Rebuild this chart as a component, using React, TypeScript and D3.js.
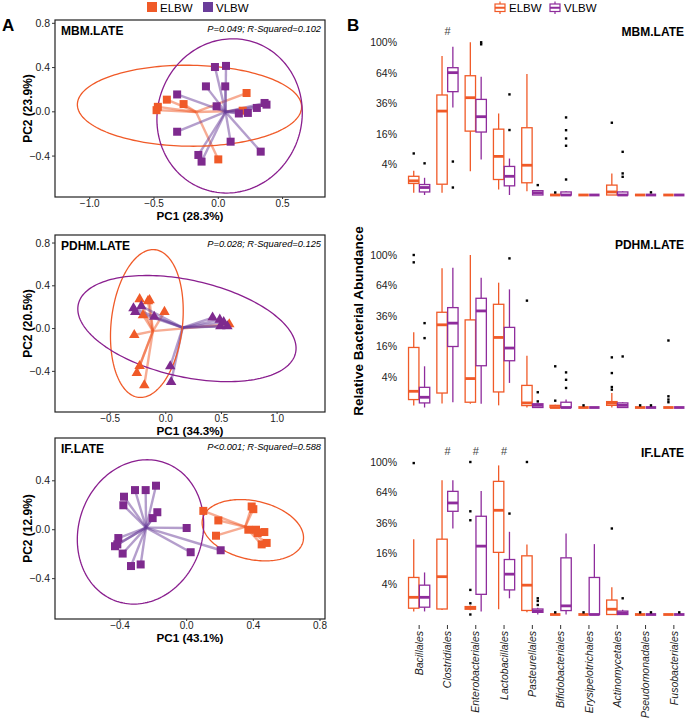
import React from 'react';
import * as d3 from 'd3';

const ORANGE = '#F05A28';
const PURPLE = '#7E2A8E';
const PURPLE_LINE = '#6A3D9A';
const PURPLE_ELL = '#8A1F8F';
const PURPLE_BOX = '#8E2C9C';
const FONT = '"Liberation Sans", Arial, Helvetica, sans-serif';

type Pt = [number, number];
type Ell = { c: Pt; a: Pt; b: Pt };
type Box = [number, number, number, number, number]; // lo, q1, median, q3, hi

const groups = ['ELBW', 'VLBW'];

// ---- panel A : PCoA ordinations ----
const mbmElbw: Pt[] = [[-0.48, 0.015], [-0.47, 0.045], [-0.40, 0.11], [-0.27, 0.07], [0.22, 0.17], [0.19, 0.01], [0.0, -0.43]];
const mbmVlbw: Pt[] = [[-0.026, 0.405], [0.06, 0.415], [0.054, 0.23], [-0.096, 0.23], [-0.32, 0.157], [-0.013, 0.05], [-0.32, -0.18], [0.16, -0.015], [0.23, -0.01], [0.30, 0.035], [0.36, 0.08], [0.375, 0.065], [0.096, -0.27], [0.33, -0.36], [-0.155, -0.39], [-0.13, -0.45]];
const pdhmElbw: Pt[] = [[-0.235, 0.275], [-0.16, 0.256], [-0.146, 0.266], [-0.012, 0.156], [-0.205, 0.125], [-0.283, -0.06], [-0.235, -0.35], [-0.26, -0.415], [-0.193, -0.53], [0.57, 0.04]];
const pdhmVlbw: Pt[] = [[-0.29, 0.19], [-0.274, 0.156], [-0.22, 0.21], [-0.104, 0.11], [0.42, 0.103], [0.485, 0.084], [0.49, 0.022], [0.553, 0.022], [0.52, 0.06], [0.04, -0.353], [0.048, -0.5]];
const ifElbw: Pt[] = [[0.1, 0.154], [0.19, 0.076], [0.176, -0.049], [0.39, 0.19], [0.40, 0.168], [0.37, 0.0], [0.416, 0.0], [0.426, -0.027], [0.466, -0.019], [0.45, -0.12], [0.48, -0.108]];
const ifVlbw: Pt[] = [[-0.31, 0.324], [-0.246, 0.324], [-0.184, 0.36], [-0.376, 0.27], [-0.38, 0.2], [-0.176, 0.143], [-0.204, 0.095], [0.0, 0.014], [-0.41, -0.068], [-0.43, -0.135], [-0.416, -0.12], [-0.384, -0.195], [-0.334, -0.297], [-0.276, -0.284], [0.024, -0.184], [0.204, -0.168]];

// ellipses: centre + two semi-axis vectors (data units)
const mbmEllipses: Ell[] = [
  { c: [-0.224, 0.055], a: [0.872, -0.01], b: [0, 0.366] },
  { c: [0.088, -0.037], a: [0.565, 0.055], b: [-0.02, 0.695] },
];
const pdhmEllipses: Ell[] = [
  { c: [-0.17, 0.047], a: [0.075, 0.69], b: [0.318, -0.04] },
  { c: [0.19, 0.0], a: [0.975, -0.23], b: [0.1, 0.44] },
];
const ifEllipses: Ell[] = [
  { c: [0.397, -0.004], a: [0.3, -0.1], b: [0.05, 0.23] },
  { c: [-0.277, -0.018], a: [0.04, 0.59], b: [0.377, 0] },
];

const mbmXTicks = [-1.0, -0.5, 0.0, 0.5];
const pdhmXTicks = [-0.5, 0.0, 0.5, 1.0];
const ifXTicks = [-0.4, 0.0, 0.4, 0.8];
const abYTicks = [-0.4, 0.0, 0.4, 0.8];
const ifYTicks = [-0.4, 0.0, 0.4];

// ---- panel B : relative abundance boxplots ----
const categories = ['Bacillales', 'Clostridiales', 'Enterobacteriales', 'Lactobacillales', 'Pasteurellales', 'Bifidobacteriales', 'Erysipelotrichales', 'Actinomycetales', 'Pseudomonadales', 'Fusobacteriales'];
const abundanceTicks = [4, 16, 36, 64, 100];

const mbmElbwBox: Box[] = [[0.02, 0.57, 0.86, 1.5, 2.5], [0.02, 0.5, 30.2, 42.9, 82.8], [2.4, 17.5, 40.6, 61, 100], [0.13, 1.03, 6.4, 18.6, 28.5], [0.06, 0.64, 3.8, 19.4, 62.8], [0, 0, 0, 0, 0], [0, 0, 0, 0, 0], [0, 0, 0.04, 0.42, 2.0], [0, 0, 0, 0, 0], [0, 0, 0, 0, 0]];
const mbmVlbwBox: Box[] = [[0, 0.04, 0.24, 0.47, 1.27], [32.9, 45.8, 64.2, 69.5, 94.4], [5.4, 17, 26.3, 39.2, 60], [0, 0.36, 1.5, 3.5, 5.7], [0, 0, 0.02, 0.08, 0.1], [0, 0, 0, 0.04, 0.06], [0, 0, 0, 0, 0], [0, 0, 0, 0.04, 0.06], [0, 0, 0, 0, 0], [0, 0, 0, 0, 0]];
const mbmElbwOut: Pt[] = [[0, 7.4], [5, 0.027], [7, 22.4]];
const mbmVlbwOut: Pt[] = [[0, 4.3], [1, 4.8], [1, 0.24], [2, 100], [2, 97.4], [3, 43.4], [3, 18.1], [4, 0.42], [5, 25.8], [5, 18], [5, 13.7], [5, 10.4], [5, 1.03], [7, 8], [7, 2], [7, 1.42], [8, 0.03]];

const pdhmElbwBox: Box[] = [[0.016, 0.27, 1.13, 15.5, 24.4], [0.07, 0.9, 29.4, 39, 83.3], [0.06, 0.12, 3.6, 33, 100], [0.02, 1.04, 21.1, 45.8, 67], [0, 0.016, 0.09, 2.1, 11.5], [0, 0, 0, 0.02, 0.03], [0, 0, 0, 0, 0], [0, 0.02, 0.08, 0.15, 0.9], [0, 0, 0, 0, 0], [0, 0, 0, 0, 0]];
const pdhmVlbwBox: Box[] = [[0, 0.09, 0.45, 1.75, 7.3], [0.12, 16, 30.6, 42.9, 84], [0.06, 7.5, 40.1, 51.3, 72.5], [2.6, 9.4, 15.2, 27.6, 60], [0, 0, 0.02, 0.06, 0.1], [0, 0, 0, 0.12, 0.27], [0, 0, 0, 0, 0], [0, 0, 0.02, 0.09, 0.12], [0, 0, 0, 0, 0], [0, 0, 0, 0, 0]];
const pdhmElbwOut: Pt[] = [[0, 100], [0, 90.6], [4, 49.1], [5, 7.3], [5, 0.2], [6, 0.02], [7, 10.8], [7, 5.1], [7, 1.8], [7, 1.37], [8, 0.02], [9, 19.3], [9, 0.54], [9, 0.27], [9, 0.12]];
const pdhmVlbwOut: Pt[] = [[0, 30.6], [0, 20.7], [3, 95.6], [4, 1], [4, 0.16], [5, 5.3], [5, 3.3], [5, 1.64], [7, 11.2], [8, 0.02]];

const ifElbwBox: Box[] = [[0.04, 0.17, 1.27, 5.9, 24.4], [0.09, 0.13, 6.15, 24.4, 77.4], [0.08, 0.12, 0.19, 0.27, 0.35], [0.12, 16.6, 46.7, 76.2, 95.6], [0.02, 0.07, 3.7, 14.8, 21.1], [0, 0, 0, 0, 0], [0, 0, 0, 0, 0], [0, 0, 0.12, 0.9, 3.2], [0, 0, 0, 0, 0], [0, 0, 0, 0, 0]];
const ifVlbwBox: Box[] = [[0.04, 0.23, 1.27, 3.7, 7.6], [31.8, 45.8, 53.5, 65.2, 77.4], [0.04, 1.75, 20.1, 41.5, 65.6], [1.13, 2.6, 7.0, 13, 29.4], [0, 0.02, 0.05, 0.13, 0.2], [0, 0.066, 0.32, 13.8, 28.2], [0, 0, 0, 5.9, 21.3], [0, 0, 0.01, 0.05, 0.1], [0, 0, 0, 0, 0], [0, 0, 0, 0, 0]];
const ifElbwOut: Pt[] = [[0, 98.6], [2, 100], [2, 45.8], [2, 38.2], [2, 2.6], [2, 0.54], [2, 0], [4, 100], [5, 0.02], [6, 0.02], [7, 31.8], [8, 0.02]];
const ifVlbwOut: Pt[] = [[3, 43.8], [4, 1.13], [4, 0.79], [4, 0.39], [7, 1.13], [8, 0.02], [9, 0.02]];

const mbmHashes = ['Clostridiales'];
const ifHashes = ['Clostridiales', 'Enterobacteriales', 'Lactobacillales'];

const fmt = d3.format('.1f');

function Pcoa(props: {
  top: number; bottom: number; xDomain: Pt; yDomain: Pt; xTicks: number[]; yTicks: number[];
  elbw: Pt[]; vlbw: Pt[]; ellipses: Ell[]; triangle?: boolean; title: string; stat: string; xTitle: string; yTitle: string;
}) {
  const { top, bottom, xDomain, yDomain, xTicks, yTicks, elbw, vlbw, ellipses, triangle, title, stat, xTitle, yTitle } = props;
  const left = 55, right = 325;
  const x = d3.scaleLinear().domain(xDomain).range([left, right]);
  const y = d3.scaleLinear().domain(yDomain).range([bottom, top]);
  const ellPath = (e: Ell) => d3.line<number>()
    .x(t => x(e.c[0] + Math.cos(t) * e.a[0] + Math.sin(t) * e.b[0]))
    .y(t => y(e.c[1] + Math.cos(t) * e.a[1] + Math.sin(t) * e.b[1]))
    .curve(d3.curveLinearClosed)(d3.range(0, 2 * Math.PI, Math.PI / 90));
  const sets = [
    { pts: elbw, color: ORANGE, line: ORANGE, ell: ORANGE },
    { pts: vlbw, color: PURPLE, line: PURPLE_LINE, ell: PURPLE_ELL },
  ];
  const tri = d3.symbol(d3.symbolTriangle, 48)()!;
  return (
    <g>
      {sets.map((s, i) => {
        const cx = d3.mean(s.pts, p => p[0])!;
        const cy = d3.mean(s.pts, p => p[1])!;
        return (
          <g key={'l' + i}>
            {s.pts.map((p, j) => (
              <line key={j} x1={x(cx)} y1={y(cy)} x2={x(p[0])} y2={y(p[1])} stroke={s.line} strokeWidth={2.4} strokeOpacity={0.5} />
            ))}
          </g>
        );
      })}
      {sets.map((s, i) => (
        <path key={'e' + i} d={ellPath(ellipses[i]) || ''} fill="none" stroke={s.ell} strokeWidth={1.3} />
      ))}
      {sets.map((s, i) => (
        <g key={'p' + i}>
          {s.pts.map((p, j) => triangle
            ? <path key={j} d={tri} transform={`translate(${x(p[0])},${y(p[1])})`} fill={s.color} />
            : <rect key={j} x={x(p[0]) - 4} y={y(p[1]) - 4} width={8} height={8} fill={s.color} />)}
        </g>
      ))}
      <rect x={left} y={top} width={right - left} height={bottom - top} fill="none" stroke="#222" strokeWidth={1.2} />
      <text x={left + 6} y={top + 15} fontFamily={FONT} fontSize={12} fontWeight="bold">{title}</text>
      <text x={right - 4} y={top + 12} fontFamily={FONT} fontSize={9.3} fontStyle="italic" textAnchor="end">{stat}</text>
      {xTicks.map(t => (
        <g key={'xt' + t}>
          <line x1={x(t)} x2={x(t)} y1={bottom} y2={bottom + 2} stroke="#333" />
          <text x={x(t)} y={bottom + 10.3} fontFamily={FONT} fontSize={10} fill="#222" textAnchor="middle">{fmt(t)}</text>
        </g>
      ))}
      {yTicks.map(t => (
        <g key={'yt' + t}>
          <line x1={left - 3} x2={left} y1={y(t)} y2={y(t)} stroke="#333" />
          <text x={left - 5} y={y(t)} dy="0.35em" fontFamily={FONT} fontSize={10.5} fill="#222" textAnchor="end">{fmt(t)}</text>
        </g>
      ))}
      <text x={(left + right) / 2} y={bottom + 22.8} fontFamily={FONT} fontSize={11.7} fontWeight="bold" textAnchor="middle">{xTitle}</text>
      <text transform={`translate(32,${(top + bottom) / 2}) rotate(-90)`} fontFamily={FONT} fontSize={12} fontWeight="bold" textAnchor="middle">{yTitle}</text>
    </g>
  );
}

function BoxPanel(props: {
  zero: number; top100: number; title: string; titleY: number;
  elbw: Box[]; vlbw: Box[]; elbwOut: Pt[]; vlbwOut: Pt[]; hashes: string[]; hashY: number;
}) {
  const { zero, top100, title, titleY, elbw, vlbw, elbwOut, vlbwOut, hashes, hashY } = props;
  const y = d3.scaleSqrt().domain([0, 100]).range([zero, top100]);
  const xb = d3.scaleBand().domain(categories).range([405, 688]);
  const bw = xb.bandwidth();
  const dodge = d3.scaleBand().domain(groups).range([bw * 0.125, bw * 0.875]).paddingInner(0.04);
  const w = dodge.bandwidth();
  const sets = [
    { boxes: elbw, out: elbwOut, color: ORANGE, g: 'ELBW' },
    { boxes: vlbw, out: vlbwOut, color: PURPLE_BOX, g: 'VLBW' },
  ];
  return (
    <g>
      {abundanceTicks.map(t => (
        <text key={t} x={397} y={y(t)} dy="0.35em" fontFamily={FONT} fontSize={10.5} fill="#222" textAnchor="end">{t + '%'}</text>
      ))}
      <text x={684} y={titleY} fontFamily={FONT} fontSize={12} fontWeight="bold" textAnchor="end">{title}</text>
      {hashes.map(h => (
        <text key={h} x={xb(h)! + bw / 2} y={hashY} fontFamily={FONT} fontSize={11} fill="#444" textAnchor="middle">#</text>
      ))}
      {sets.map(s => (
        <g key={s.g}>
          {s.boxes.map((b, i) => {
            const x0 = xb(categories[i])! + dodge(s.g)!;
            const xc = x0 + w / 2;
            return (
              <g key={i} stroke={s.color} fill="none">
                <line x1={xc} x2={xc} y1={y(b[4])} y2={y(b[3])} strokeWidth={1.3} />
                <line x1={xc} x2={xc} y1={y(b[1])} y2={y(b[0])} strokeWidth={1.3} />
                <rect x={x0} y={y(b[3])} width={w} height={y(b[1]) - y(b[3])} fill="#fff" strokeWidth={1.3} />
                <line x1={x0} x2={x0 + w} y1={y(b[2])} y2={y(b[2])} strokeWidth={2.8} />
              </g>
            );
          })}
          {s.out.map((o, j) => {
            const xc = xb(categories[o[0]])! + dodge(s.g)! + w / 2;
            return <rect key={'o' + j} x={xc - 1.2} y={y(o[1]) - 1.2} width={2.4} height={2.4} fill="#000" />;
          })}
        </g>
      ))}
    </g>
  );
}

export default function App() {
  const xb = d3.scaleBand().domain(categories).range([405, 688]);
  const bw = xb.bandwidth();
  return (
    <svg width={685} height={727} style={{ position: 'absolute', left: 0, top: 0, background: '#fff' }}>
      <rect width={685} height={727} fill="#fff" />
      {/* legends */}
      <rect x={147} y={2} width={10} height={10} fill={ORANGE} />
      <text x={160} y={11.5} fontFamily={FONT} fontSize={11.5}>{groups[0]}</text>
      <rect x={203} y={2} width={10} height={10} fill={PURPLE_LINE} />
      <text x={216} y={11.5} fontFamily={FONT} fontSize={11.5}>{groups[1]}</text>
      {[{ x: 495, c: ORANGE }, { x: 550, c: PURPLE_BOX }].map((l, i) => (
        <g key={i} stroke={l.c} fill="#fff" strokeWidth={1.2}>
          <line x1={l.x + 5} x2={l.x + 5} y1={1.5} y2={14} />
          <rect x={l.x} y={4} width={10} height={7.5} />
          <line x1={l.x} x2={l.x + 10} y1={7.75} y2={7.75} strokeWidth={2} />
        </g>
      ))}
      <text x={509} y={11.5} fontFamily={FONT} fontSize={11.5}>{groups[0]}</text>
      <text x={564} y={11.5} fontFamily={FONT} fontSize={11.5}>{groups[1]}</text>

      <text x={2} y={31} fontFamily={FONT} fontSize={17} fontWeight="bold">A</text>
      <text x={347} y={31} fontFamily={FONT} fontSize={17} fontWeight="bold">B</text>

      <Pcoa top={20} bottom={197} xDomain={[-1.27, 0.83]} yDomain={[-0.77, 0.83]} xTicks={mbmXTicks} yTicks={abYTicks}
        elbw={mbmElbw} vlbw={mbmVlbw} ellipses={mbmEllipses} title="MBM.LATE" stat="P=0.049;  R-Squared=0.102" xTitle="PC1 (28.3%)" yTitle="PC2 (23.9%)" />
      <Pcoa top={235} bottom={412} xDomain={[-0.995, 1.43]} yDomain={[-0.78, 0.875]} xTicks={pdhmXTicks} yTicks={abYTicks} triangle
        elbw={pdhmElbw} vlbw={pdhmVlbw} ellipses={pdhmEllipses} title="PDHM.LATE" stat="P=0.028;  R-Squared=0.125" xTitle="PC1 (34.3%)" yTitle="PC2 (20.5%)" />
      <Pcoa top={438} bottom={619} xDomain={[-0.79, 0.83]} yDomain={[-0.73, 0.75]} xTicks={ifXTicks} yTicks={ifYTicks}
        elbw={ifElbw} vlbw={ifVlbw} ellipses={ifEllipses} title="IF.LATE" stat="P<0.001;  R-Squared=0.588" xTitle="PC1 (43.1%)" yTitle="PC2 (12.9%)" />

      <BoxPanel zero={195} top100={42.3} title="MBM.LATE" titleY={36} elbw={mbmElbwBox} vlbw={mbmVlbwBox}
        elbwOut={mbmElbwOut} vlbwOut={mbmVlbwOut} hashes={mbmHashes} hashY={35} />
      <BoxPanel zero={407.5} top100={255} title="PDHM.LATE" titleY={249} elbw={pdhmElbwBox} vlbw={pdhmVlbwBox}
        elbwOut={pdhmElbwOut} vlbwOut={pdhmVlbwOut} hashes={[]} hashY={0} />
      <BoxPanel zero={614.5} top100={462} title="IF.LATE" titleY={457} elbw={ifElbwBox} vlbw={ifVlbwBox}
        elbwOut={ifElbwOut} vlbwOut={ifVlbwOut} hashes={ifHashes} hashY={455} />

      <text transform="translate(363,321) rotate(-90)" fontFamily={FONT} fontSize={13.5} fontWeight="bold" textAnchor="middle">Relative Bacterial Abundance</text>

      {categories.map(c => {
        const xc = xb(c)! + bw / 2;
        return (
          <g key={c}>
            <line x1={xc} x2={xc} y1={625} y2={629} stroke="#333" />
            <text transform={`translate(${xc},${631}) rotate(-90)`} dy="0.35em" fontFamily={FONT} fontSize={10.5} fontStyle="italic" fill="#222" textAnchor="end">{c}</text>
          </g>
        );
      })}
    </svg>
  );
}
